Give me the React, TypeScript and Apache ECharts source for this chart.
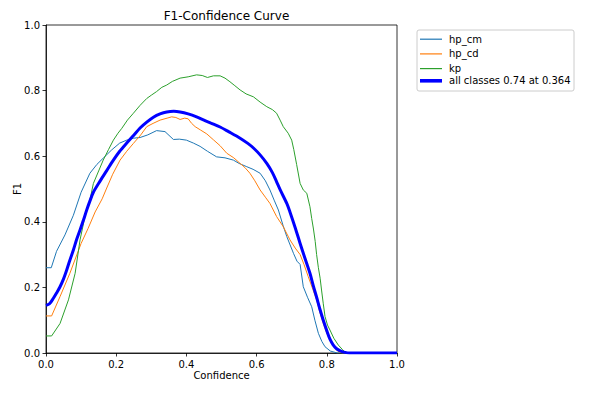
import React, { useEffect, useRef } from "react";
import * as echarts from "echarts";

const TITLE = "F1-Confidence Curve";
const X_LABEL = "Confidence";
const Y_LABEL = "F1";
const SERIES_NAMES = ["hp_cm", "hp_cd", "kp", "all classes 0.74 at 0.364"];
const SERIES_COLORS = ["#1f77b4", "#ff7f0e", "#2ca02c", "#0000ff"];

const hpCm: [number, number][] = [
  [0, 0.26], [0.015, 0.26], [0.03, 0.31], [0.054, 0.36], [0.078, 0.42], [0.1, 0.49],
  [0.125, 0.548], [0.145, 0.575], [0.163, 0.594], [0.187, 0.619], [0.21, 0.64], [0.23, 0.649],
  [0.25, 0.655], [0.268, 0.657], [0.29, 0.665], [0.315, 0.678], [0.339, 0.675], [0.363, 0.651],
  [0.38, 0.652], [0.4, 0.649], [0.42, 0.64], [0.439, 0.63], [0.46, 0.615], [0.486, 0.598],
  [0.51, 0.595], [0.534, 0.588], [0.55, 0.578], [0.572, 0.568], [0.59, 0.56], [0.61, 0.548],
  [0.625, 0.525], [0.638, 0.497], [0.65, 0.466], [0.662, 0.436], [0.675, 0.39], [0.686, 0.355],
  [0.705, 0.304], [0.715, 0.28], [0.724, 0.27], [0.733, 0.202], [0.745, 0.17], [0.757, 0.141],
  [0.766, 0.1], [0.776, 0.06], [0.786, 0.035], [0.795, 0.019], [0.81, 0.006], [0.83, 0.0], [1.0, 0.0],
];

const hpCd: [number, number][] = [
  [0, 0.113], [0.016, 0.113], [0.04, 0.172], [0.068, 0.243], [0.1, 0.334], [0.12, 0.38],
  [0.14, 0.43], [0.16, 0.47], [0.173, 0.503], [0.19, 0.545], [0.211, 0.588], [0.23, 0.615],
  [0.249, 0.639], [0.27, 0.665], [0.287, 0.69], [0.305, 0.7], [0.325, 0.71], [0.345, 0.716],
  [0.358, 0.72], [0.37, 0.718], [0.382, 0.712], [0.395, 0.716], [0.405, 0.714], [0.415, 0.7],
  [0.425, 0.69], [0.44, 0.68], [0.458, 0.668], [0.477, 0.65], [0.496, 0.632], [0.515, 0.609],
  [0.535, 0.595], [0.553, 0.578], [0.567, 0.565], [0.581, 0.548], [0.595, 0.525], [0.61, 0.497],
  [0.625, 0.475], [0.638, 0.456], [0.657, 0.416], [0.676, 0.385], [0.695, 0.345], [0.71, 0.32],
  [0.724, 0.3], [0.735, 0.27], [0.747, 0.233], [0.76, 0.195], [0.771, 0.162], [0.78, 0.125],
  [0.79, 0.09], [0.8, 0.06], [0.814, 0.03], [0.825, 0.012], [0.835, 0.003], [0.845, 0.0], [1.0, 0.0],
];

const kp: [number, number][] = [
  [0, 0.052], [0.016, 0.052], [0.04, 0.09], [0.064, 0.162], [0.083, 0.243], [0.097, 0.345],
  [0.111, 0.416], [0.125, 0.466], [0.135, 0.517], [0.15, 0.555], [0.163, 0.588], [0.178, 0.62],
  [0.192, 0.649], [0.205, 0.67], [0.216, 0.685], [0.232, 0.71], [0.249, 0.731], [0.268, 0.755],
  [0.287, 0.776], [0.3, 0.786], [0.315, 0.797], [0.33, 0.81], [0.344, 0.817], [0.36, 0.828],
  [0.382, 0.838], [0.405, 0.842], [0.429, 0.848], [0.445, 0.846], [0.46, 0.84], [0.477, 0.845],
  [0.496, 0.845], [0.51, 0.838], [0.524, 0.827], [0.538, 0.815], [0.553, 0.802], [0.57, 0.79],
  [0.591, 0.781], [0.61, 0.765], [0.629, 0.751], [0.645, 0.742], [0.657, 0.731], [0.667, 0.71],
  [0.676, 0.69], [0.69, 0.67], [0.7, 0.649], [0.706, 0.62], [0.714, 0.575], [0.724, 0.517],
  [0.733, 0.497], [0.743, 0.487], [0.752, 0.446], [0.757, 0.41], [0.762, 0.378], [0.767, 0.34],
  [0.771, 0.3], [0.776, 0.26], [0.781, 0.228], [0.785, 0.192], [0.79, 0.15], [0.795, 0.111],
  [0.802, 0.085], [0.809, 0.07], [0.82, 0.045], [0.833, 0.024], [0.845, 0.01], [0.855, 0.0], [1.0, 0.0],
];

const allClasses: [number, number][] = [
  [0, 0.145], [0.01, 0.15], [0.021, 0.167], [0.03, 0.183], [0.04, 0.202], [0.05, 0.226],
  [0.059, 0.253], [0.068, 0.283], [0.078, 0.314], [0.087, 0.345], [0.097, 0.375], [0.107, 0.406],
  [0.116, 0.436], [0.125, 0.463], [0.135, 0.49], [0.154, 0.524], [0.173, 0.556], [0.192, 0.588],
  [0.21, 0.615], [0.23, 0.64], [0.25, 0.664], [0.268, 0.686], [0.287, 0.704], [0.306, 0.719],
  [0.325, 0.729], [0.344, 0.735], [0.364, 0.737], [0.382, 0.735], [0.405, 0.729], [0.429, 0.72],
  [0.45, 0.71], [0.47, 0.701], [0.496, 0.689], [0.52, 0.675], [0.553, 0.655], [0.575, 0.639],
  [0.591, 0.625], [0.61, 0.604], [0.629, 0.578], [0.645, 0.55], [0.657, 0.522], [0.667, 0.498],
  [0.686, 0.456], [0.695, 0.43], [0.71, 0.382], [0.724, 0.334], [0.738, 0.288], [0.752, 0.243],
  [0.762, 0.203], [0.771, 0.17], [0.78, 0.135], [0.79, 0.1], [0.8, 0.068], [0.809, 0.042],
  [0.818, 0.025], [0.828, 0.013], [0.84, 0.006], [0.852, 0.002], [0.865, 0.0], [1.0, 0.0],
];

const X_TICKS = [0, 0.2, 0.4, 0.6, 0.8, 1.0];
const Y_TICKS = [0, 0.2, 0.4, 0.6, 0.8, 1.0];

const FONT = "DejaVu Sans";

export default function App() {
  const ref = useRef<HTMLDivElement>(null);
  useEffect(() => {
    if (!ref.current) return;
    const chart = echarts.init(ref.current, null, { renderer: "svg" });
    const datasets = [hpCm, hpCd, kp, allClasses];
    const widths = [1, 1, 1, 3];
    const rowCenters = [37.7, 52.4, 67.1, 81.8];
    const legends = SERIES_NAMES.map((name, i) => ({
      data: [name],
      left: 420,
      top: rowCenters[i] - (i === 3 ? 6 : 3.5),
      padding: 0,
      icon: "rect",
      itemWidth: 22,
      itemHeight: widths[i] * 1.2,
      selectedMode: false,
      textStyle: { fontFamily: FONT, fontSize: 10, color: "#000", padding: [0, 0, 0, 2] },
    }));
    chart.setOption({
      animation: false,
      backgroundColor: "#fff",
      title: {
        text: TITLE,
        left: 221.5,
        textAlign: "center",
        top: 5,
        textStyle: { fontFamily: FONT, fontSize: 12, fontWeight: "normal", color: "#000" },
      },
      grid: {
        left: 46,
        top: 25,
        width: 351,
        height: 328,
        show: true,
        borderColor: "#000",
        borderWidth: 0.8,
        containLabel: false,
        outerBoundsMode: "none",
      },
      graphic: [
        {
          type: "rect",
          shape: { x: 417, y: 30, width: 157, height: 61, r: 2 },
          style: { fill: "rgba(255,255,255,0.8)", stroke: "#cccccc", lineWidth: 1 },
          z: 0,
        },
      ],
      legend: legends,
      xAxis: {
        type: "value",
        min: 0,
        max: 1,
        interval: 0.2,
        name: X_LABEL,
        nameLocation: "middle",
        nameGap: 17,
        nameMoveOverlap: false,
        nameTextStyle: { fontFamily: FONT, fontSize: 10, color: "#000" },
        axisLine: { show: true, lineStyle: { color: "#000", width: 0.8 } },
        axisTick: { show: true, length: 3.5, lineStyle: { color: "#000", width: 0.8 } },
        axisLabel: {
          fontFamily: FONT,
          fontSize: 10,
          color: "#000",
          margin: 6,
          formatter: (v: number) => (X_TICKS.some((t) => Math.abs(t - v) < 1e-9) ? v.toFixed(1) : ""),
        },
        splitLine: { show: false },
      },
      yAxis: {
        type: "value",
        min: 0,
        max: 1,
        interval: 0.2,
        name: Y_LABEL,
        nameLocation: "middle",
        nameGap: 24,
        nameRotate: 90,
        nameMoveOverlap: false,
        nameTextStyle: { fontFamily: FONT, fontSize: 10, color: "#000" },
        axisLine: { show: true, lineStyle: { color: "#000", width: 0.8 } },
        axisTick: { show: true, length: 3.5, lineStyle: { color: "#000", width: 0.8 } },
        axisLabel: {
          fontFamily: FONT,
          fontSize: 10,
          color: "#000",
          margin: 6,
          formatter: (v: number) => (Y_TICKS.some((t) => Math.abs(t - v) < 1e-9) ? v.toFixed(1) : ""),
        },
        splitLine: { show: false },
      },
      series: datasets.map((d, i) => ({
        name: SERIES_NAMES[i],
        type: "line",
        data: d,
        symbol: "none",
        showSymbol: false,
        smooth: i === 3 ? 0.3 : false,
        color: SERIES_COLORS[i],
        itemStyle: { color: SERIES_COLORS[i] },
        lineStyle: { color: SERIES_COLORS[i], width: widths[i] },
        z: i === 3 ? 3 : 2,
        clip: true,
      })),
    });
    return () => chart.dispose();
  }, []);
  return (
    <div
      ref={ref}
      style={{ position: "fixed", left: 0, top: 0, width: 590, height: 393 }}
    />
  );
}
